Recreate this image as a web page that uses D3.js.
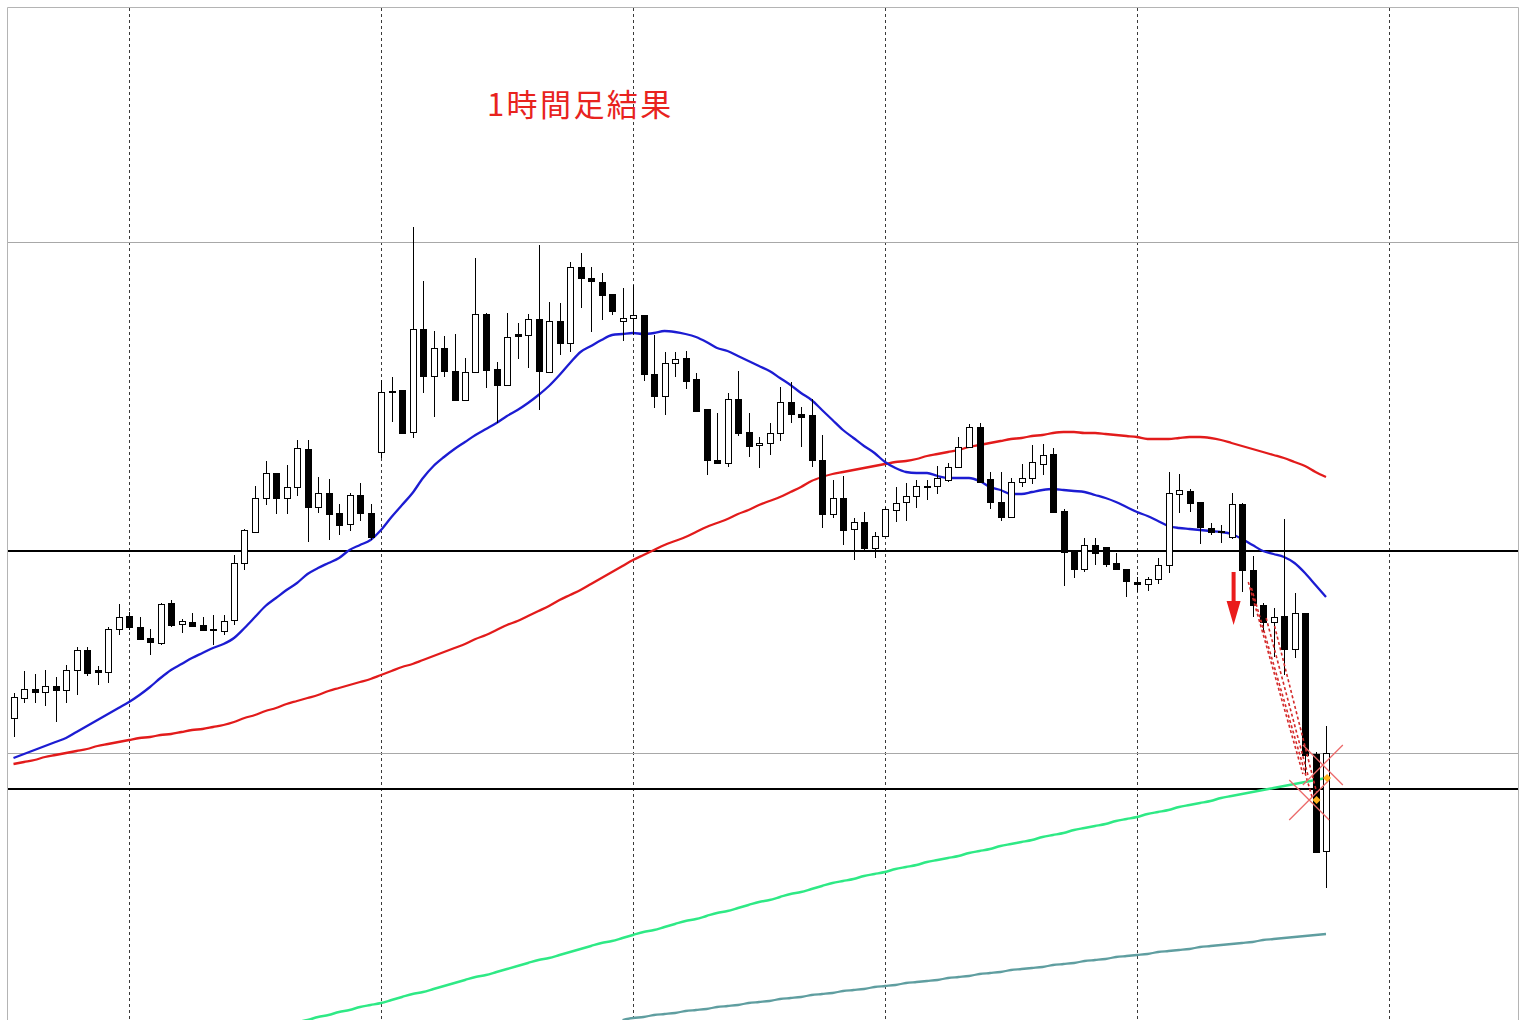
<!DOCTYPE html>
<html><head><meta charset="utf-8">
<script src="https://cdn.jsdelivr.net/npm/d3@7/dist/d3.min.js"></script>
<style>html,body{margin:0;padding:0;background:#fff;overflow:hidden}</style>
</head><body><svg id="c" width="1519" height="1020"></svg>
<script>
// ---- DATA (hourly candles, price) ----
const title = "1時間足結果";
const open = [152.82,153.02,153.11,153.08,153.14,153.10,153.30,153.50,153.30,153.28,153.71,153.84,153.73,153.62,153.57,153.97,153.76,153.78,153.75,153.71,153.69,153.80,154.37,154.68,155.02,155.27,155.02,155.13,155.51,154.93,155.07,154.87,154.76,155.05,154.87,155.48,156.09,156.10,155.68,156.71,156.24,156.52,156.29,156.00,156.28,156.86,156.31,156.15,156.66,156.65,156.81,156.28,156.79,156.57,157.33,157.22,157.18,157.06,156.79,156.82,156.85,156.26,156.04,156.37,156.42,156.21,155.91,155.40,155.37,156.01,155.68,155.55,155.57,155.67,155.98,155.86,155.85,155.40,154.86,155.02,154.71,154.78,154.52,154.64,154.90,154.98,155.04,155.13,155.14,155.20,155.33,155.53,155.73,155.21,154.98,154.83,155.18,155.22,155.36,155.46,154.89,154.48,154.31,154.55,154.53,154.37,154.31,154.18,154.16,154.21,154.35,155.06,155.09,154.98,154.72,154.69,154.63,154.96,154.30,153.95,153.78,153.84,153.51,153.87,152.46,151.49];
const high = [153.07,153.29,153.26,153.30,153.23,153.35,153.53,153.53,153.34,153.73,153.96,153.88,153.83,153.71,153.97,154.00,153.81,153.87,153.83,153.85,153.85,154.45,154.71,155.14,155.39,155.27,155.35,155.60,155.60,155.23,155.21,154.96,155.07,155.17,154.96,156.20,156.23,156.10,157.73,157.19,156.69,156.64,156.66,156.42,157.42,156.87,156.38,156.87,156.77,156.86,157.55,156.98,156.97,157.38,157.47,157.33,157.27,157.06,157.12,157.15,156.85,156.65,156.48,156.48,156.49,156.27,155.91,155.87,156.07,156.29,155.87,155.63,155.77,156.13,156.18,155.93,156.01,155.65,155.20,155.24,154.82,154.88,154.68,154.93,155.13,155.17,155.20,155.20,155.34,155.37,155.63,155.76,155.77,155.28,155.28,155.22,155.36,155.55,155.56,155.52,154.91,154.48,154.62,154.62,154.53,154.47,154.31,154.23,154.23,154.42,155.28,155.26,155.11,154.98,154.77,154.75,155.07,154.97,154.44,153.97,153.92,154.81,154.07,153.87,152.48,152.74];
const low = [152.63,152.97,152.97,152.94,152.78,152.97,153.05,153.24,153.15,153.17,153.65,153.70,153.61,153.45,153.55,153.73,153.67,153.74,153.70,153.55,153.65,153.75,154.30,154.68,154.95,154.86,154.86,155.04,154.58,154.87,154.60,154.65,154.69,154.79,154.60,155.42,155.78,155.66,155.62,156.07,155.83,156.23,156.00,156.00,156.28,156.12,155.77,156.15,156.41,156.32,155.90,156.28,156.45,156.48,156.92,156.68,156.80,156.85,156.59,156.65,156.19,155.92,155.85,156.23,156.11,155.88,155.25,155.36,155.33,155.64,155.43,155.32,155.45,155.59,155.77,155.53,155.33,154.72,154.82,154.55,154.40,154.50,154.42,154.63,154.78,154.79,154.92,155.00,155.06,155.18,155.32,155.52,155.17,154.91,154.79,154.83,155.13,155.16,155.25,154.88,154.14,154.22,154.28,154.35,154.33,154.31,154.03,154.08,154.09,154.16,154.27,154.87,154.88,154.56,154.65,154.57,154.61,154.08,153.83,153.68,153.43,153.25,153.42,152.27,151.47,151.12];
const close = [153.03,153.11,153.08,153.14,153.10,153.30,153.50,153.27,153.28,153.71,153.83,153.73,153.61,153.58,153.96,153.75,153.79,153.74,153.70,153.70,153.79,154.37,154.70,155.02,155.27,155.02,155.13,155.52,154.93,155.07,154.86,154.75,155.05,154.87,154.63,156.08,156.08,155.67,156.71,156.24,156.52,156.29,156.00,156.28,156.86,156.30,156.15,156.63,156.64,156.81,156.29,156.79,156.57,157.33,157.22,157.19,157.05,156.89,156.82,156.85,156.26,156.04,156.37,156.41,156.19,155.89,155.40,155.37,156.01,155.67,155.54,155.57,155.67,155.98,155.86,155.83,155.40,154.86,155.02,154.70,154.78,154.52,154.64,154.91,154.97,155.04,155.14,155.14,155.22,155.33,155.53,155.73,155.18,154.98,154.83,155.18,155.22,155.38,155.45,154.88,154.48,154.31,154.55,154.47,154.36,154.31,154.19,154.16,154.21,154.35,155.07,155.10,154.97,154.73,154.68,154.68,154.96,154.30,153.95,153.78,153.83,153.51,153.87,152.45,151.48,152.47];
// moving averages (one value per candle; longer ones end-aligned with the candles)
const maBlue = [152.42,152.46,152.50,152.54,152.58,152.62,152.68,152.74,152.80,152.86,152.92,152.98,153.05,153.13,153.22,153.30,153.36,153.42,153.47,153.52,153.56,153.62,153.72,153.83,153.94,154.02,154.10,154.17,154.26,154.32,154.37,154.42,154.50,154.55,154.60,154.70,154.83,154.95,155.07,155.22,155.34,155.43,155.51,155.58,155.65,155.71,155.77,155.84,155.90,155.97,156.05,156.14,156.25,156.37,156.48,156.54,156.60,156.65,156.66,156.67,156.66,156.67,156.69,156.68,156.66,156.63,156.58,156.52,156.49,156.44,156.39,156.34,156.29,156.22,156.15,156.07,156.00,155.90,155.80,155.70,155.62,155.54,155.47,155.38,155.32,155.28,155.27,155.27,155.24,155.22,155.22,155.22,155.19,155.13,155.10,155.06,155.06,155.08,155.10,155.11,155.10,155.09,155.08,155.05,155.02,154.98,154.93,154.88,154.84,154.79,154.74,154.72,154.71,154.70,154.69,154.68,154.66,154.61,154.55,154.49,154.46,154.43,154.37,154.27,154.15,154.03];
const maRed = [152.36,152.38,152.40,152.43,152.45,152.47,152.49,152.51,152.54,152.56,152.58,152.60,152.62,152.63,152.65,152.66,152.68,152.70,152.71,152.73,152.75,152.78,152.82,152.85,152.89,152.92,152.96,152.99,153.02,153.05,153.09,153.12,153.15,153.18,153.21,153.25,153.29,153.33,153.36,153.40,153.44,153.48,153.52,153.56,153.61,153.65,153.70,153.75,153.79,153.84,153.89,153.94,154.00,154.05,154.10,154.16,154.22,154.28,154.34,154.40,154.45,154.50,154.55,154.59,154.63,154.68,154.73,154.77,154.81,154.86,154.90,154.95,154.99,155.03,155.08,155.13,155.19,155.23,155.26,155.28,155.30,155.32,155.34,155.36,155.38,155.39,155.41,155.44,155.46,155.48,155.50,155.53,155.55,155.57,155.59,155.61,155.62,155.64,155.65,155.67,155.68,155.68,155.67,155.67,155.66,155.65,155.64,155.63,155.61,155.61,155.61,155.62,155.63,155.63,155.62,155.60,155.57,155.54,155.51,155.48,155.45,155.42,155.38,155.34,155.28,155.23];
const maGreen = [149.78,149.80,149.83,149.85,149.88,149.90,149.93,149.95,149.97,150.00,150.03,150.06,150.08,150.11,150.14,150.17,150.20,150.23,150.25,150.28,150.31,150.34,150.37,150.40,150.42,150.45,150.48,150.51,150.54,150.57,150.59,150.62,150.65,150.68,150.70,150.73,150.76,150.79,150.81,150.84,150.87,150.89,150.92,150.95,150.98,151.00,151.03,151.06,151.08,151.11,151.14,151.17,151.19,151.21,151.24,151.26,151.28,151.31,151.33,151.35,151.38,151.40,151.42,151.44,151.47,151.49,151.51,151.54,151.56,151.58,151.60,151.63,151.65,151.67,151.70,151.72,151.74,151.76,151.79,151.81,151.83,151.86,151.88,151.90,151.93,151.95,151.97,151.99,152.02,152.04,152.06,152.08,152.10,152.12,152.14,152.16,152.18,152.20,152.22];
const maTeal = [149.80,149.82,149.83,149.85,149.86,149.87,149.89,149.90,149.91,149.93,149.94,149.95,149.97,149.98,149.99,150.01,150.02,150.03,150.05,150.06,150.07,150.09,150.10,150.11,150.13,150.14,150.15,150.17,150.18,150.19,150.20,150.22,150.23,150.24,150.26,150.27,150.28,150.30,150.31,150.32,150.33,150.35,150.36,150.37,150.39,150.40,150.41,150.43,150.44,150.45,150.46,150.48,150.49,150.50,150.51,150.53,150.54,150.55,150.56,150.57,150.58,150.60,150.61,150.62,150.63,150.64,150.65,150.66];
// horizontal price levels
const grayLevels = [157.58, 152.47];
const blackLevels = [154.49, 152.11];
// day separators (candle index where each day starts)
const dayStarts = [11, 35, 59, 83, 107, 131];
// annotations
const arrowSignal = {i: 116.2, from: 154.28, to: 153.75};
const tradeLines = [
  {i0: 117.6, p0: 154.18, i1: 122.8, p1: 152.26},
  {i0: 117.9, p0: 154.12, i1: 123.7, p1: 152.02},
  {i0: 119.3, p0: 153.82, i1: 123.3, p1: 152.24},
  {i0: 120.1, p0: 153.74, i1: 124.1, p1: 152.08}
];
const crosses = [{i: 124.7, p: 152.35}, {i: 123.4, p: 152.00}];
const diamonds = [{i: 125.1, p: 152.22}, {i: 124.1, p: 152.00}];

// ---- CHART ----
const W = 1519, H = 1020, L = 8, T = 8;
const svg = d3.select("#c");
const n = open.length;
const x = d3.scaleLinear().domain([0, n - 1]).range([13.5, 1326]);
const y = d3.scaleLinear().domain([149.80, 160.00]).range([1020, 0]);

svg.append("defs").append("clipPath").attr("id", "clip")
  .append("rect").attr("x", L).attr("y", T).attr("width", W - L).attr("height", H - T);
const g = svg.append("g").attr("clip-path", "url(#clip)");

// frame
svg.append("path").attr("d", `M${L - 0.5},${H} V${T - 0.5} H${W - 0.5} V${H}`)
  .attr("fill", "none").attr("stroke", "#b4b4b4").attr("stroke-width", 1);

// vertical dashed day separators
g.selectAll("line.day").data(dayStarts).join("line").attr("class", "day")
  .attr("x1", d => Math.round(x(d)) + 0.5).attr("x2", d => Math.round(x(d)) + 0.5)
  .attr("y1", T).attr("y2", H)
  .attr("stroke", "#3a3a3a").attr("stroke-width", 1).attr("stroke-dasharray", "3,3");

// horizontal levels
g.selectAll("line.gl").data(grayLevels).join("line").attr("class", "gl")
  .attr("x1", L).attr("x2", W).attr("y1", d => Math.round(y(d)) + 0.5).attr("y2", d => Math.round(y(d)) + 0.5)
  .attr("stroke", "#a8a8a8").attr("stroke-width", 1);
g.selectAll("line.bl").data(blackLevels).join("line").attr("class", "bl")
  .attr("x1", L).attr("x2", W).attr("y1", d => Math.round(y(d))).attr("y2", d => Math.round(y(d)))
  .attr("stroke", "#000").attr("stroke-width", 2);

// moving averages
function maLine(arr, color, w) {
  const off = n - arr.length;
  const line = d3.line().x((d, k) => x(k + off)).y(d => y(d)).curve(d3.curveMonotoneX);
  g.append("path").datum(arr).attr("d", line).attr("fill", "none")
    .attr("stroke", color).attr("stroke-width", w).attr("stroke-linejoin", "round");
}
maLine(maTeal, "#5f9ea0", 2.3);
maLine(maGreen, "#2ee985", 2.4);
maLine(maRed, "#e21b1b", 2.3);
maLine(maBlue, "#1c1cd2", 2.3);

// candles
const idx = d3.range(n);
const cx = i => Math.round(x(i));
g.selectAll("line.wick").data(idx).join("line").attr("class", "wick")
  .attr("x1", i => cx(i) + 0.5).attr("x2", i => cx(i) + 0.5)
  .attr("y1", i => y(high[i])).attr("y2", i => y(low[i]))
  .attr("stroke", "#000").attr("stroke-width", 1);
g.selectAll("rect.body").data(idx).join("rect").attr("class", "body")
  .attr("x", i => cx(i) - 2.5).attr("width", 6)
  .attr("y", i => Math.round(y(Math.max(open[i], close[i]))) + 0.5)
  .attr("height", i => Math.max(1, Math.round(Math.abs(y(open[i]) - y(close[i])))))
  .attr("fill", i => close[i] >= open[i] ? "#fff" : "#000")
  .attr("stroke", "#000").attr("stroke-width", 1);

// trade dotted lines
g.selectAll("line.trade").data(tradeLines).join("line").attr("class", "trade")
  .attr("x1", d => x(d.i0)).attr("y1", d => y(d.p0)).attr("x2", d => x(d.i1)).attr("y2", d => y(d.p1))
  .attr("stroke", "#d42a2a").attr("stroke-width", 1.6).attr("stroke-dasharray", "3,2.5");

// crosses
crosses.forEach(c => {
  const px = x(c.i), py = y(c.p), s = 20;
  g.append("path").attr("d", `M${px - s},${py - s}L${px + s},${py + s}M${px + s},${py - s}L${px - s},${py + s}`)
    .attr("stroke", "#ec6a6a").attr("stroke-width", 1.3).attr("fill", "none");
});
// diamonds
diamonds.forEach(c => {
  const px = x(c.i), py = y(c.p), s = 4;
  g.append("path").attr("d", `M${px},${py - s}L${px + s},${py}L${px},${py + s}L${px - s},${py}Z`)
    .attr("fill", "#ffb21c");
});

// signal arrow
{
  const ax = x(arrowSignal.i), y0 = y(arrowSignal.from), y1 = y(arrowSignal.to);
  const headH = 24, headW = 7, shaft = 2;
  g.append("path").attr("d",
    `M${ax - shaft},${y0}H${ax + shaft}V${y1 - headH}H${ax + headW}L${ax},${y1}L${ax - headW},${y1 - headH}H${ax - shaft}Z`)
    .attr("fill", "#ea1c1c");
}

// title
svg.append("text").attr("x", 487).attr("y", 116)
  .attr("font-family", "'Noto Sans CJK JP', 'Noto Sans', sans-serif")
  .attr("font-size", 31).attr("letter-spacing", 2.4).attr("fill", "#e8231e").text(title);
</script></body></html>
